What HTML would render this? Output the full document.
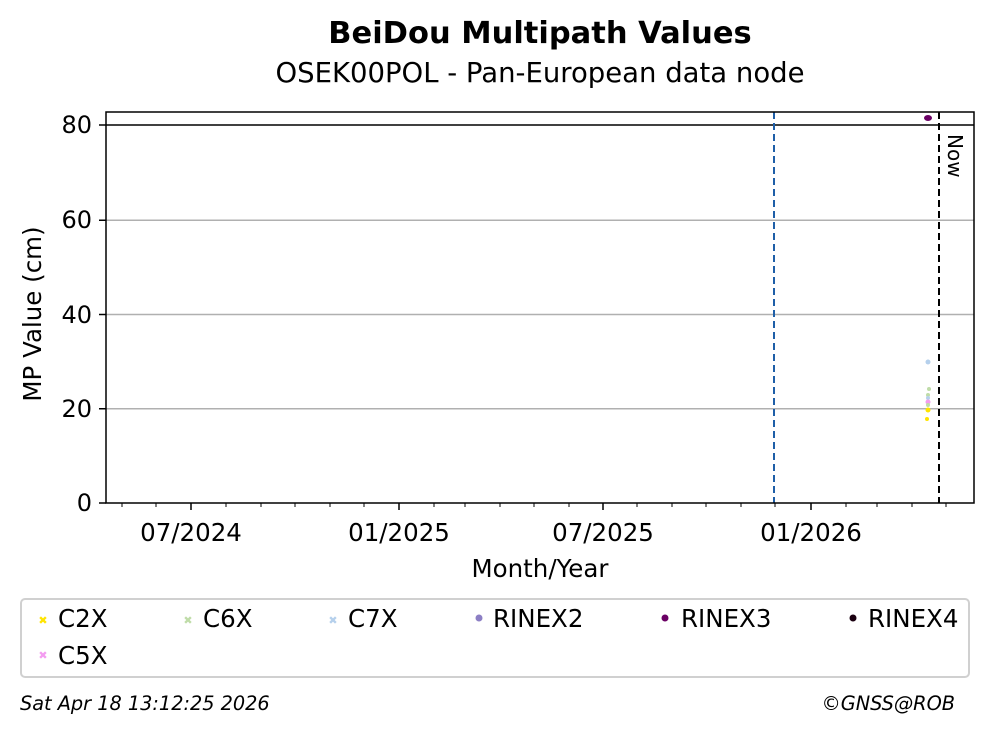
<!DOCTYPE html>
<html><head><style>body{margin:0;background:#fff;}svg{display:block;font-family:"DejaVu Sans",sans-serif;}</style></head><body>
<svg width="992" height="734" viewBox="0 0 992 734">
<rect width="992" height="734" fill="#fff"/>
<text x="540" y="43" text-anchor="middle" font-size="30.5" font-weight="bold">BeiDou Multipath Values</text>
<text x="540" y="82" text-anchor="middle" font-size="27.5">OSEK00POL - Pan-European data node</text>
<g stroke="#b0b0b0" stroke-width="1.5">
<line x1="106" x2="974" y1="408.75" y2="408.75"/>
<line x1="106" x2="974" y1="314.5" y2="314.5"/>
<line x1="106" x2="974" y1="220.25" y2="220.25"/>
</g>
<line x1="106" x2="974" y1="125" y2="125" stroke="#000" stroke-width="1.5"/>
<line x1="774" x2="774" y1="112" y2="503" stroke="#1f5fa8" stroke-width="2" stroke-dasharray="7,4"/>
<line x1="939" x2="939" y1="112" y2="503" stroke="#000" stroke-width="2" stroke-dasharray="7,4"/>
<text transform="translate(948,134) rotate(90)" font-size="20">Now</text>
<ellipse cx="928" cy="118" rx="4" ry="3" fill="#6a0064"/>
<g>
<circle cx="928" cy="362" r="2.5" fill="#b5d0ec"/>
<circle cx="929" cy="389" r="2" fill="#bfdca8"/>
<circle cx="928" cy="395" r="2" fill="#bfdca8"/>
<circle cx="928" cy="398" r="2" fill="#b5d0ec"/>
<circle cx="928" cy="402" r="2.5" fill="#f39cf0"/>
<circle cx="928" cy="405" r="2" fill="#bfdca8"/>
<circle cx="928" cy="410" r="2.5" fill="#ffe400"/>
<circle cx="927" cy="419" r="2" fill="#ffe400"/>
</g>
<rect x="106" y="112" width="868" height="391" fill="none" stroke="#000" stroke-width="1.5"/>
<g stroke="#000" stroke-width="1.5">
<line x1="191" x2="191" y1="503" y2="510"/><line x1="399" x2="399" y1="503" y2="510"/><line x1="603" x2="603" y1="503" y2="510"/><line x1="811" x2="811" y1="503" y2="510"/>
<line x1="99" x2="106" y1="503" y2="503"/><line x1="99" x2="106" y1="408.75" y2="408.75"/><line x1="99" x2="106" y1="314.5" y2="314.5"/><line x1="99" x2="106" y1="220.25" y2="220.25"/><line x1="99" x2="106" y1="125" y2="125"/>
</g>
<g stroke="#000" stroke-width="1">
<line x1="122" x2="122" y1="503" y2="507"/><line x1="156" x2="156" y1="503" y2="507"/><line x1="226" x2="226" y1="503" y2="507"/><line x1="261" x2="261" y1="503" y2="507"/><line x1="295" x2="295" y1="503" y2="507"/><line x1="330" x2="330" y1="503" y2="507"/><line x1="364" x2="364" y1="503" y2="507"/>
<line x1="434" x2="434" y1="503" y2="507"/><line x1="465" x2="465" y1="503" y2="507"/><line x1="500" x2="500" y1="503" y2="507"/><line x1="534" x2="534" y1="503" y2="507"/><line x1="569" x2="569" y1="503" y2="507"/>
<line x1="637" x2="637" y1="503" y2="507"/><line x1="672" x2="672" y1="503" y2="507"/><line x1="706" x2="706" y1="503" y2="507"/><line x1="741" x2="741" y1="503" y2="507"/><line x1="775" x2="775" y1="503" y2="507"/>
<line x1="846" x2="846" y1="503" y2="507"/><line x1="877" x2="877" y1="503" y2="507"/><line x1="912" x2="912" y1="503" y2="507"/><line x1="946" x2="946" y1="503" y2="507"/>
</g>
<g font-size="24" text-anchor="end">
<text x="92" y="511">0</text><text x="92" y="417">20</text><text x="92" y="323">40</text><text x="92" y="228">60</text><text x="92" y="133">80</text>
</g>
<g font-size="24.5" text-anchor="middle">
<text x="191" y="541">07/2024</text><text x="399" y="541">01/2025</text><text x="603" y="541">07/2025</text><text x="811" y="541">01/2026</text>
<text x="540" y="577">Month/Year</text>
</g>
<text transform="translate(41,314) rotate(-90)" text-anchor="middle" font-size="24.5">MP Value (cm)</text>
<rect x="21" y="599" width="948" height="78" rx="4" fill="#fff" stroke="#d0d0d0" stroke-width="2"/>
<g font-size="24.5">
<text x="43" y="624" fill="#ffe400" font-size="11" text-anchor="middle">✖</text><text x="58" y="627">C2X</text>
<text x="188" y="624" fill="#bfdca8" font-size="11" text-anchor="middle">✖</text><text x="203" y="627">C6X</text>
<text x="333" y="624" fill="#b5d0ec" font-size="11" text-anchor="middle">✖</text><text x="348" y="627">C7X</text>
<circle cx="479" cy="618" r="3.5" fill="#8c7fc4"/><text x="493" y="627">RINEX2</text>
<circle cx="665" cy="618" r="3.5" fill="#6a0064"/><text x="681" y="627">RINEX3</text>
<circle cx="853" cy="618" r="3.5" fill="#1a0010"/><text x="868" y="627">RINEX4</text>
<text x="43" y="659" fill="#f39cf0" font-size="11" text-anchor="middle">✖</text><text x="58" y="664">C5X</text>
</g>
<text x="20" y="710" font-size="19.3" font-style="italic">Sat Apr 18 13:12:25 2026</text>
<text x="955" y="710" font-size="19.3" font-style="italic" text-anchor="end">©GNSS@ROB</text>
</svg>
</body></html>
